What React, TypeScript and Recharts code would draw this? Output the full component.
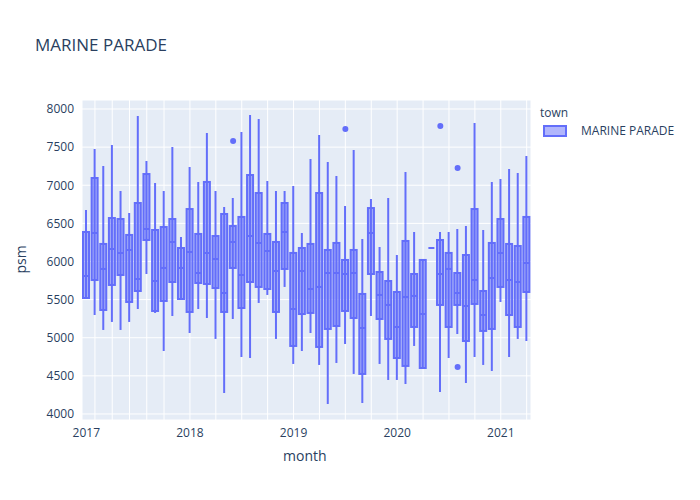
import { Bar, CartesianGrid, ComposedChart, Scatter, XAxis, YAxis } from "recharts";

const MONTHS = Array.from({ length: 52 }, (_, i) => {
  const y = 2017 + Math.floor(i / 12);
  const m = (i % 12) + 1;
  return `${y}-${String(m).padStart(2, "0")}`;
});

const LOW = [5521, 5298, 5102, 5207, 5102, 5207, 5377, 5836, 5325, 4826, 5285, 5495, 5062, 5377, 5259, 4984, 4275, 5246, 4747, 4734, 5456, 5561, 4984, 5666, 4656, 4826, 5062, 4643, 4131, 4669, 4918, 4525, 4144, 5285, 4656, 4446, 4446, 4393, 4892, 4603, 6177, 4288, 4734, 5049, 4406, 4747, 4643, 4564, 5469, 4747, 4984, 4957];
const Q1 = [5521, 5757, 5364, 5692, 5823, 5469, 5613, 6282, 5351, 5482, 5731, 5508, 5338, 5718, 5705, 5652, 5338, 5915, 5390, 5731, 5666, 5639, 5338, 5902, 4892, 5311, 5325, 4879, 5115, 5154, 5351, 5259, 4525, 5836, 5246, 4984, 4734, 4630, 5141, 4603, 6177, 5430, 5141, 5430, 4957, 5443, 5089, 5115, 5666, 5298, 5141, 5600];
const MEDIAN = [5810, 6374, 5902, 6164, 6112, 6151, 5770, 6426, 5744, 5915, 6256, 5915, 6125, 5849, 6112, 6033, 5587, 6256, 5823, 6334, 6243, 6138, 5875, 6387, 5377, 5875, 5639, 5666, 5849, 5849, 5836, 5849, 5128, 6374, 5561, 5430, 5141, 5534, 5548, 5311, 6177, 5836, 5902, 5587, 5416, 5757, 5298, 5783, 6112, 5757, 5731, 5980];
const Q3 = [6387, 7095, 6230, 6570, 6557, 6348, 6767, 7147, 6413, 6452, 6557, 6177, 6688, 6361, 7043, 6334, 6623, 6465, 6584, 7134, 6898, 6361, 6256, 6767, 6112, 6177, 6230, 6898, 6151, 6243, 6020, 6151, 5574, 6701, 5862, 5744, 5600, 6269, 5836, 6020, 6177, 6282, 6112, 5849, 6085, 6688, 5613, 6243, 6557, 6230, 6203, 6584];
const HIGH = [6675, 7475, 7252, 7528, 6925, 6636, 7908, 7318, 7030, 6925, 7502, 6321, 7239, 7043, 7685, 6925, 6715, 6833, 7698, 7921, 7869, 7056, 6925, 6925, 6990, 6374, 7344, 7659, 7305, 7121, 6728, 7462, 6295, 6820, 6190, 6833, 6085, 7174, 6387, 6033, 6177, 6387, 6387, 6426, 6465, 7816, 6413, 7043, 7082, 7213, 7161, 7384];

// outliers above / below the whiskers, keyed by month
const OUT_HIGH: Record<string, number> = { "2018-06": 7580, "2019-07": 7738, "2020-06": 7777, "2020-08": 7226 };
const OUT_LOW: Record<string, number> = { "2020-08": 4616 };

const COLOR = "#636efa";
const FONT = "'Open Sans', 'Liberation Sans', sans-serif";

const data = MONTHS.map((month, i) => ({
  month,
  box: [Q1[i], Q3[i]],
  whisker: [LOW[i], HIGH[i]],
  q1: Q1[i],
  q3: Q3[i],
  median: MEDIAN[i],
  outHigh: OUT_HIGH[month] ?? null,
  outLow: OUT_LOW[month] ?? null,
}));

const YEAR_TICKS = ["2017-01", "2018-01", "2019-01", "2020-01", "2021-01"];

function BoxShape(props: any) {
  const { x, y, width, height, payload } = props;
  const span = payload.q3 - payload.q1;
  const my = span > 0 ? y + (height * (payload.q3 - payload.median)) / span : y;
  return (
    <g>
      {height > 0.5 && (
        <rect x={x} y={y} width={width} height={height} fill="rgba(99,110,250,0.5)" stroke={COLOR} strokeWidth={2} />
      )}
      <line x1={x} x2={x + width} y1={my} y2={my} stroke={COLOR} strokeWidth={2} />
    </g>
  );
}

function WhiskerShape(props: any) {
  const { x, y, width, height } = props;
  const cx = x + width / 2;
  if (height < 0.5) return <g />;
  return <line x1={cx} x2={cx} y1={y} y2={y + height} stroke={COLOR} strokeWidth={2} />;
}

function Dot(p: any) {
  if (p.cx == null || p.cy == null || !isFinite(p.cy)) return <g />;
  return <circle cx={p.cx} cy={p.cy} r={3} fill={COLOR} />;
}

export default function App() {
  return (
    <div style={{ position: "absolute", left: 0, top: 0, width: 700, height: 500, background: "#fff", fontFamily: FONT }}>
      <div style={{ position: "absolute", left: 35, top: 33, fontSize: 17, color: "#2a3f5f" }}>MARINE PARADE</div>
      <div style={{ position: "absolute", left: 540, top: 104, fontSize: 12, color: "#2a3f5f" }}>town</div>
      <div style={{ position: "absolute", left: 543, top: 122, display: "flex", alignItems: "center", fontSize: 12, color: "#2a3f5f" }}>
        <span style={{ display: "inline-block", width: 24, height: 12, background: "rgba(99,110,250,0.5)", border: `2px solid ${COLOR}`, boxSizing: "border-box" }} />
        <span style={{ marginLeft: 14 }}>MARINE PARADE</span>
      </div>
      <div style={{ position: "absolute", left: 283, top: 446, fontSize: 14, color: "#2a3f5f" }}>month</div>
      <div style={{ position: "absolute", left: 6, top: 250, fontSize: 14, color: "#2a3f5f", transform: "rotate(-90deg)" }}>psm</div>
      <ComposedChart width={700} height={500} data={data} margin={{ top: 100, right: 169, bottom: 0, left: 0 }}>
        <CartesianGrid fill="#E5ECF6" stroke="#ffffff" strokeWidth={1} />
        <XAxis
          xAxisId="box"
          dataKey="month"
          ticks={YEAR_TICKS}
          interval={0}
          tickFormatter={(v) => v.slice(0, 4)}
          tickLine={false}
          axisLine={false}
          height={80}
          tick={{ fontSize: 12, fill: "#2a3f5f", fontFamily: FONT }}
        />
        <XAxis xAxisId="whisker" dataKey="month" hide />
        <XAxis xAxisId="out" dataKey="month" hide />
        <YAxis
          yAxisId={0}
          type="number"
          domain={[3921, 8118]}
          ticks={[4000, 4500, 5000, 5500, 6000, 6500, 7000, 7500, 8000]}
          allowDataOverflow
          tickLine={false}
          axisLine={false}
          width={82}
          tick={{ fontSize: 12, fill: "#2a3f5f", fontFamily: FONT }}
        />
        <Bar xAxisId="whisker" dataKey="whisker" barSize={6} shape={<WhiskerShape />} isAnimationActive={false} />
        <Bar xAxisId="box" dataKey="box" barSize={6} shape={<BoxShape />} isAnimationActive={false} />
        <Scatter xAxisId="out" dataKey="outHigh" fill={COLOR} shape={<Dot />} isAnimationActive={false} />
        <Scatter xAxisId="out" dataKey="outLow" fill={COLOR} shape={<Dot />} isAnimationActive={false} />
      </ComposedChart>
    </div>
  );
}
